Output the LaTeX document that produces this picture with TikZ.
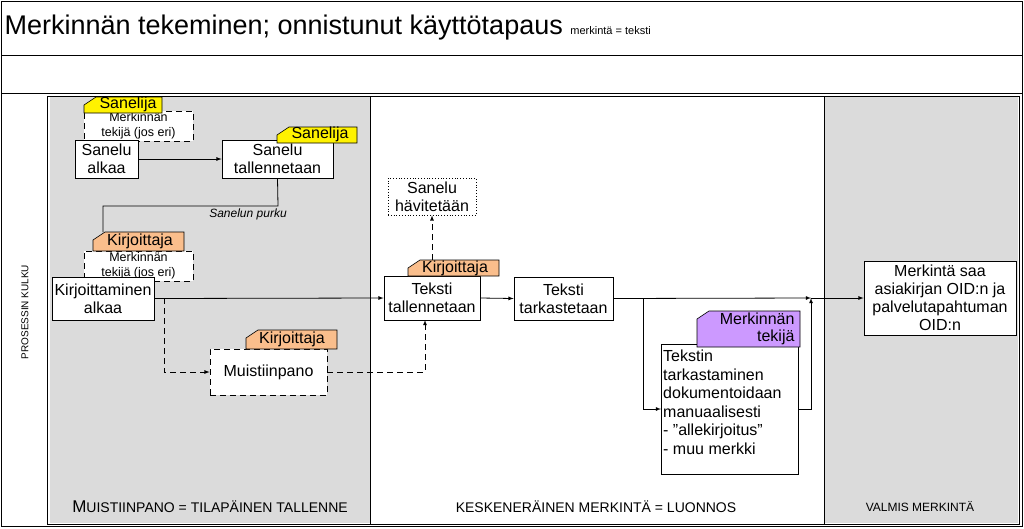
\documentclass[tikz,border=0pt]{standalone}
\usepackage{fontspec}
\setmainfont{Liberation Sans}
\definecolor{tagor}{RGB}{250,190,140}
\definecolor{tagvi}{RGB}{204,153,255}
\begin{document}
\begin{tikzpicture}[x=1pt,y=-1pt,
  box/.style={draw,fill=white,line width=0.8pt,inner sep=0pt,font=\fontsize{16}{18}\selectfont,align=center},
  dbox/.style={box,dash pattern=on 6pt off 4pt},
  arr/.style={-latex,line width=0.8pt},
  darr/.style={-latex,line width=0.8pt,dash pattern=on 6pt off 4pt},
  tagtxt/.style={font=\fontsize{16}{17}\selectfont},
  lane/.style={font=\fontsize{14}{16}\selectfont}]
\useasboundingbox (0,0) rectangle (1024,528);
\draw[line width=0.8pt] (1,1) rectangle (1022,526);
\draw[line width=0.8pt] (1,55) -- (1022,55) (1,93) -- (1022,93);
\fill[gray!28] (50,97) rectangle (370,523);
\fill[gray!28] (824,97) rectangle (1018,523);
\draw[line width=0.7pt] (47,96) rectangle (1019,524);
\draw[line width=0.7pt] (370,96) -- (370,524) (824,96) -- (824,524);
\node[anchor=west,font=\fontsize{27}{29}\selectfont] (title) at (1,28) {Merkinnän tekeminen; onnistunut käyttötapaus \fontsize{11}{12}\selectfont merkintä = teksti};
\node[rotate=90,font=\fontsize{10}{12}\selectfont] (kulku) at (25,312) {PROSESSIN KULKU};
\node[lane] (l1) at (210,507) {{\fontsize{17}{18}\selectfont M}UISTIINPANO = TILAPÄINEN TALLENNE};
\node[lane] (l2) at (596,507) {KESKENERÄINEN MERKINTÄ = LUONNOS};
\node[font=\fontsize{12}{14}\selectfont] (l3) at (920,507) {VALMIS MERKINTÄ};
\newcommand{\tagbox}[5]{%
  \filldraw[fill=#5,line width=0.6pt] (#1+12,#2) -- (#3,#2) -- (#3,#4) -- (#1,#4) -- (#1,#2+8) -- cycle;}
\node[dbox,minimum width=109,minimum height=30,font=\fontsize{12.5}{14.5}\selectfont] (m1) at (138.5,126) {Merkinnän\\tekijä (jos eri)};
\tagbox{84}{97}{162}{113}{yellow}
\node[tagtxt] (t1) at (128,104) {Sanelija};
\node[box,minimum width=63,minimum height=38] (sa) at (106.5,159) {Sanelu\\alkaa};
\node[box,minimum width=111,minimum height=38] (st) at (277.5,159) {Sanelu\\tallennetaan};
\tagbox{277}{127}{357}{143}{yellow}
\node[tagtxt] (t2) at (320,134) {Sanelija};
\draw[arr] (sa.east) -- (st.west);
\node[dbox,minimum width=109,minimum height=30,font=\fontsize{12.5}{14.5}\selectfont] (m2) at (138.5,266) {Merkinnän\\tekijä (jos eri)};
\tagbox{93}{232}{184}{251}{tagor}
\node[tagtxt] (t3) at (140,241) {Kirjoittaja};
\draw[line width=0.8pt] (st.south) -- (278,206) -- (103,206) -- (103,232);
\node[font=\itshape\fontsize{12}{14}\selectfont] (pk) at (248,214) {Sanelun purku};
\node[box,minimum width=102,minimum height=43] (ka) at (103,298.5) {Kirjoittaminen\\alkaa};
\node[box,minimum width=96,minimum height=44] (tt) at (432,298) {Teksti\\tallennetaan};
\tagbox{408}{260}{499}{276}{tagor}
\node[tagtxt] (t4) at (455,268) {Kirjoittaja};
\node[box,dotted,minimum width=88,minimum height=37] (sh) at (432,196.5) {Sanelu\\hävitetään};
\draw[darr] (432,260) -- (sh.south);
\draw[arr] (ka.east) -- (tt.west);
\node[dbox,minimum width=117,minimum height=46] (mu) at (268.5,372) {Muistiinpano};
\tagbox{246}{330}{337}{349}{tagor}
\node[tagtxt] (t5) at (292,339) {Kirjoittaja};
\draw[darr] (164,298) -- (164,372) -- (mu.west);
\draw[darr] (mu.east) -- (425,372) -- (425,320);
\node[box,minimum width=99,minimum height=43] (tk) at (563.5,298.5) {Teksti\\tarkastetaan};
\draw[arr] (tt.east) -- (tk.west);
\node[box,minimum width=152,minimum height=74] (ms) at (940,298) {Merkintä saa\\asiakirjan OID:n ja\\palvelutapahtuman\\OID:n};
\draw[arr] (tk.east) -- (811,298);
\draw[arr] (811,298) -- (ms.west);
\node[box,minimum width=137,minimum height=130,anchor=north west] (tx) at (661,344) {};
\node[anchor=north west,align=left,inner sep=0pt,font=\fontsize{16}{18.5}\selectfont] (txt) at (663,350)
 {Tekstin\\tarkastaminen\\dokumentoidaan\\manuaalisesti\\- ”allekirjoitus”\\- muu merkki};
\tagbox{697}{311}{800}{347}{tagvi}
\node[align=right,anchor=east,font=\fontsize{16}{17}\selectfont] (t6) at (798,329) {Merkinnän\\tekijä};
\draw[arr] (643,298) -- (643,409) -- (tx.west |- 0,409);
\draw[arr] (tx.east |- 0,409) -- (811,409) -- (811,298);
\end{tikzpicture}
\end{document}
